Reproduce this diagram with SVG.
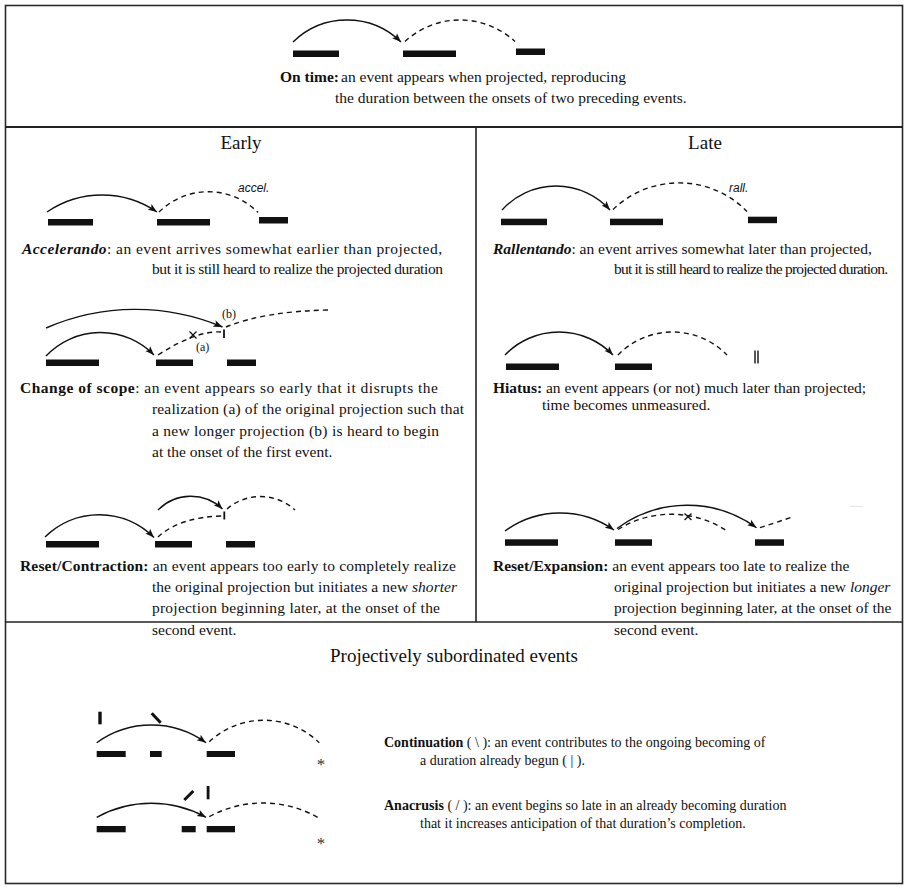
<svg xmlns="http://www.w3.org/2000/svg" width="908" height="887" viewBox="0 0 908 887">
<defs>
<marker id="ah" markerWidth="10" markerHeight="8" refX="9" refY="4" orient="auto" markerUnits="userSpaceOnUse">
<path d="M0,0.6 L9,4 L0,7.4 L2,4 z" fill="#111"/>
</marker>
<style>
text{font-family:"Liberation Serif","Times New Roman",serif;fill:#111;}
.d{font-size:15.5px;}
.s{font-size:14px;}
.h{font-size:19px;}
.lab{font-size:12px;}
.ast{font-size:17px;fill:#333;}
.it{font-family:"Liberation Sans",Arial,sans-serif;font-style:italic;font-size:12px;}
.b{font-weight:bold;}
.bi{font-weight:bold;font-style:italic;}
.i{font-style:italic;}
.bar{fill:#111;}
.sol{fill:none;stroke:#111;stroke-width:1.4;marker-end:url(#ah);}
.das{fill:none;stroke:#111;stroke-width:1.4;stroke-dasharray:5 4;}
.tk{stroke:#111;stroke-width:1.8;}
.frame{fill:none;stroke:#2a2a2a;stroke-width:1.6;}
</style>
</defs>

<g id="frame">
<rect class="frame" x="5.5" y="5.5" width="897" height="878"/>
<line x1="5" y1="127" x2="903" y2="127" stroke="#222" stroke-width="2.2"/>
<line x1="476" y1="127" x2="476" y2="622" stroke="#222" stroke-width="1.6"/>
<line x1="5" y1="622" x2="903" y2="622" stroke="#222" stroke-width="1.6"/>
</g>

<g id="connectors">
<path class="sol" d="M293,42 A77.3,77.3 0 0 1 401,42"/>
<path class="das" d="M405,41.5 A81,81 0 0 1 515,41.5"/>
<path class="sol" d="M47,212 A97.5,97.5 0 0 1 157,212"/>
<path class="das" d="M159,212 A70,70 0 0 1 258,212.5"/>
<path class="sol" d="M502,210 A72.8,72.8 0 0 1 610,210"/>
<path class="das" d="M613,209.5 A95,95 0 0 1 747,211.5"/>
<path class="sol" d="M46,356 A74.9,74.9 0 0 1 154,355"/>
<path class="sol" d="M46,328 A224,224 0 0 1 222.5,327"/>
<path class="das" d="M158,355 Q197,330 222,332"/>
<path class="das" d="M226,327 Q265,311 330,310"/>
<path class="sol" d="M505,355 A74.9,74.9 0 0 1 613,355"/>
<path class="das" d="M618,355 A76,76 0 0 1 727,355"/>
<path class="sol" d="M45,537 A77.2,77.2 0 0 1 154,537.5"/>
<path class="das" d="M158,537 Q180,517 222,516"/>
<path class="sol" d="M158,510 A45.9,45.9 0 0 1 222.5,509"/>
<path class="das" d="M227,509 A51,51 0 0 1 295,510"/>
<path class="sol" d="M505,531 A93.6,93.6 0 0 1 614,530"/>
<path class="sol" d="M617,528.5 A118,118 0 0 1 756.5,527.7"/>
<path class="das" d="M618,529.5 A100.8,100.8 0 0 1 727,531"/>
<path class="das" d="M760,527.7 L794,516.5"/>
<path class="sol" d="M96.7,742.7 A93.2,93.2 0 0 1 206,742.7"/>
<path class="das" d="M209.3,741.7 A79.8,79.8 0 0 1 319.3,742.7"/>
<path class="sol" d="M96.7,817.3 A113.7,113.7 0 0 1 206,817.3"/>
<path class="das" d="M209.3,816.7 A111.6,111.6 0 0 1 319.3,818.3"/>
</g>

<g id="on-time">
<rect class="bar" x="293" y="50.5" width="46" height="6.5"/>
<rect class="bar" x="403" y="50.5" width="53" height="6.5"/>
<rect class="bar" x="516" y="48.5" width="29" height="6.5"/>
<text class="d" x="280" y="82"><tspan class="b">On time:</tspan><tspan x="341">an event appears when projected, reproducing</tspan></text>
<text class="d" x="335" y="103">the duration between the onsets of two preceding events.</text>
</g>

<g id="early-header"><text class="h" x="241" y="149" text-anchor="middle">Early</text></g>
<g id="late-header"><text class="h" x="705" y="149" text-anchor="middle">Late</text></g>

<g id="accelerando">
<rect class="bar" x="48" y="219" width="45" height="6.5"/>
<rect class="bar" x="157" y="219" width="53" height="6.5"/>
<rect class="bar" x="259" y="217" width="29" height="6.5"/>
<text class="it" x="238" y="192">accel.</text>
<text class="d" x="22" y="254" textLength="420" lengthAdjust="spacing"><tspan class="bi">Accelerando</tspan>: an event arrives somewhat earlier than projected,</text>
<text class="d" x="152" y="274" textLength="291" lengthAdjust="spacing">but it is still heard to realize the projected duration</text>
</g>

<g id="rallentando">
<rect class="bar" x="501" y="218.7" width="46" height="6.5"/>
<rect class="bar" x="610" y="218.7" width="53" height="6.5"/>
<rect class="bar" x="748" y="216.7" width="29" height="6.5"/>
<text class="it" x="729" y="192">rall.</text>
<text class="d" x="493" y="254"><tspan class="bi">Rallentando</tspan>: an event arrives somewhat later than projected,</text>
<text class="d" x="614" y="274" textLength="274" lengthAdjust="spacing">but it is still heard to realize the projected duration.</text>
</g>

<g id="change-of-scope">
<rect class="bar" x="46" y="359.5" width="53" height="6.5"/>
<rect class="bar" x="156" y="359.5" width="37" height="6.5"/>
<rect class="bar" x="227" y="359.5" width="29" height="6.5"/>
<line class="tk" x1="224" y1="329.5" x2="224" y2="338"/>
<path d="M189.5,331.5 L196.5,338.5 M196.5,331.5 L189.5,338.5" stroke="#111" stroke-width="1.3"/>
<text class="lab" x="196" y="351">(a)</text>
<text class="lab" x="222" y="318">(b)</text>
<text class="d" x="20" y="393" textLength="418" lengthAdjust="spacing"><tspan class="b">Change of scope</tspan>: an event appears so early that it disrupts the</text>
<text class="d" x="152" y="414" textLength="312" lengthAdjust="spacing">realization (a) of the original projection such that</text>
<text class="d" x="152" y="436" textLength="287" lengthAdjust="spacing">a new longer projection (b) is heard to begin</text>
<text class="d" x="152" y="457">at the onset of the first event.</text>
</g>

<g id="hiatus">
<rect class="bar" x="506" y="363.5" width="53" height="6.5"/>
<rect class="bar" x="615" y="363.5" width="37" height="6.5"/>
<line x1="755" y1="350.5" x2="755" y2="363.5" stroke="#111" stroke-width="1.4"/>
<line x1="758" y1="350.5" x2="758" y2="363.5" stroke="#111" stroke-width="1.4"/>
<text class="d" x="493" y="393"><tspan class="b">Hiatus:</tspan> an event appears (or not) much later than projected;</text>
<text class="d" x="542" y="410">time becomes unmeasured.</text>
</g>

<g id="reset-contraction">
<rect class="bar" x="46" y="541" width="53" height="6.5"/>
<rect class="bar" x="155" y="541" width="37" height="6.5"/>
<rect class="bar" x="226" y="541" width="29" height="6.5"/>
<line class="tk" x1="224.3" y1="511.5" x2="224.3" y2="519.5"/>
<text class="d" x="20" y="571" textLength="436" lengthAdjust="spacing"><tspan class="b">Reset/Contraction:</tspan> an event appears too early to completely realize</text>
<text class="d" x="152" y="592" textLength="305" lengthAdjust="spacing">the original projection but initiates a new <tspan class="i">shorter</tspan></text>
<text class="d" x="152" y="613" textLength="288" lengthAdjust="spacing">projection beginning later, at the onset of the</text>
<text class="d" x="152" y="635">second event.</text>
</g>

<g id="reset-expansion">
<rect class="bar" x="505" y="539.3" width="53" height="6.5"/>
<rect class="bar" x="615" y="539.3" width="37" height="6.5"/>
<rect class="bar" x="755" y="539.3" width="29" height="6.5"/>
<path d="M684.5,513.5 L691.5,520 M691.5,513.5 L684.5,520" stroke="#111" stroke-width="1.3"/>
<line x1="850" y1="506.5" x2="863" y2="506.5" stroke="#e6e6e6" stroke-width="1.2"/>
<text class="d" x="493" y="571"><tspan class="b">Reset/Expansion:</tspan> an event appears too late to realize the</text>
<text class="d" x="614" y="592">original projection but initiates a new <tspan class="i">longer</tspan></text>
<text class="d" x="614" y="613">projection beginning later, at the onset of the</text>
<text class="d" x="614" y="635">second event.</text>
</g>

<g id="sub-header"><text class="h" x="454" y="662" text-anchor="middle">Projectively subordinated events</text></g>

<g id="continuation">
<rect class="bar" x="98.3" y="711.7" width="3.4" height="12.6"/>
<line x1="151.7" y1="713.3" x2="160.7" y2="722.7" stroke="#111" stroke-width="3"/>
<rect class="bar" x="96.7" y="751" width="29" height="6"/>
<rect class="bar" x="150" y="751" width="11.7" height="6"/>
<rect class="bar" x="206.7" y="751" width="28.3" height="6"/>
<text class="ast" x="321" y="770" text-anchor="middle">*</text>
<text class="s" x="384" y="747"><tspan class="b">Continuation</tspan> ( \ ): an event contributes to the ongoing becoming of</text>
<text class="s" x="420" y="765">a duration already begun ( | ).</text>
</g>

<g id="anacrusis">
<line x1="184.3" y1="800" x2="193.3" y2="791" stroke="#111" stroke-width="3"/>
<rect class="bar" x="206.7" y="786" width="2.8" height="13.3"/>
<rect class="bar" x="96.7" y="826" width="29" height="6.3"/>
<rect class="bar" x="181.7" y="826" width="14" height="6.3"/>
<rect class="bar" x="206.7" y="826" width="28.3" height="6.3"/>
<text class="ast" x="321" y="849" text-anchor="middle">*</text>
<text class="s" x="384" y="810"><tspan class="b">Anacrusis</tspan> ( / ): an event begins so late in an already becoming duration</text>
<text class="s" x="420" y="828">that it increases anticipation of that duration’s completion.</text>
</g>
</svg>
